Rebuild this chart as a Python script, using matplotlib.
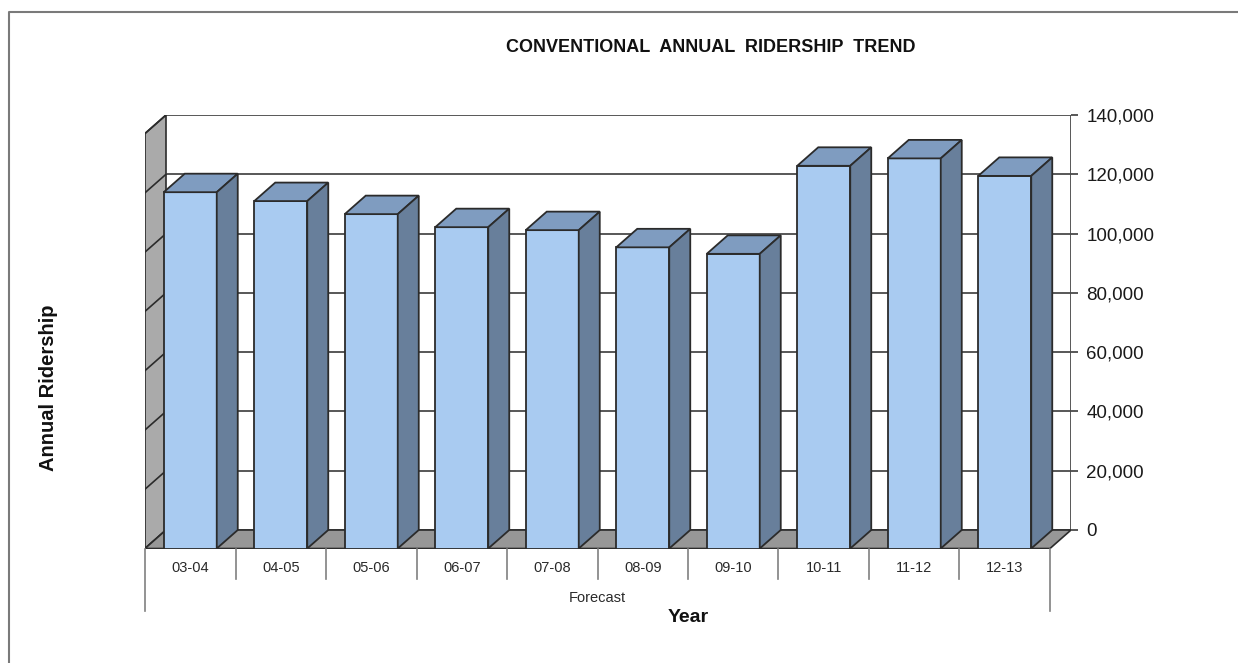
import matplotlib
matplotlib.use("Agg")
import matplotlib.pyplot as plt
from matplotlib.patches import Polygon
from matplotlib.lines import Line2D

plt.rcParams['font.family'] = ['Liberation Sans', 'DejaVu Sans']

# data
years = ['03-04', '04-05', '05-06', '06-07', '07-08',
         '08-09', '09-10', '10-11', '11-12', '12-13']
ridership = [120200, 117200, 112800, 108400, 107400,
             101600, 99400, 129100, 131600, 125700]
y_ticks = [0, 20000, 40000, 60000, 80000, 100000, 120000, 140000]
y_max = 140000

# colours
front_col = '#a9cbf1'
top_col = '#7f9cc0'
side_col = '#687f9b'
wall_col = '#aaaaaa'
floor_col = '#979797'
line_col = '#2b2b2b'

W, H = 1238, 663
fig = plt.figure(figsize=(W / 100, H / 100), dpi=100)

# fake 3d geometry, in pixels
px_left, px_front, px_top = 145, 548.5, 115
cat_px = 90.5
unit_px = 415 / y_max
dx = 21 / cat_px
dy = 18.5 / unit_px
n = len(years)
x_lo, x_hi = -0.5, n - 0.5 + dx
y_hi = y_max + dy

def py(p):
    # pixel distance -> value units
    return p / unit_px

ax = fig.add_axes([px_left / W, (H - px_front) / H,
                   (x_hi - x_lo) * cat_px / W, (px_front - px_top) / H])
ax.set_xlim(x_lo, x_hi)
ax.set_ylim(0, y_hi)
for s in ax.spines.values():
    s.set_visible(False)

# back wall + gridlines
ax.add_patch(Polygon([(x_lo + dx, dy), (x_hi, dy), (x_hi, y_hi), (x_lo + dx, y_hi)],
                     fc='white', ec='none', zorder=0))
# left wall
ax.add_patch(Polygon([(x_lo, 0), (x_lo + dx, dy), (x_lo + dx, y_hi), (x_lo, y_max)],
                     fc=wall_col, ec=line_col, lw=1.2, zorder=1))
for v in y_ticks:
    ax.plot([x_lo + dx, x_hi], [v + dy, v + dy], color='#4a4a4a', lw=1.3, zorder=1)
    ax.plot([x_lo, x_lo + dx], [v, v + dy], color=line_col, lw=1.2, zorder=2)
ax.plot([x_hi, x_hi], [dy, y_hi], color='#4a4a4a', lw=1.3, zorder=1)

# floor
ax.add_patch(Polygon([(x_lo, 0), (n - 0.5, 0), (x_hi, dy), (x_lo + dx, dy)],
                     fc=floor_col, ec=line_col, lw=1.2, zorder=2))

# bars: front face via bar(), top and side faces as polygons
xs = list(range(n))
bw = 53 / cat_px
ax.bar(xs, ridership, width=bw, color=front_col, edgecolor=line_col, lw=1.3, zorder=4)
for x, v in zip(xs, ridership):
    l, r = x - bw / 2, x + bw / 2
    ax.add_patch(Polygon([(l, v), (r, v), (r + dx, v + dy), (l + dx, v + dy)],
                         fc=top_col, ec=line_col, lw=1.3, zorder=4))
    ax.add_patch(Polygon([(r, 0), (r + dx, dy), (r + dx, v + dy), (r, v)],
                         fc=side_col, ec=line_col, lw=1.3, zorder=4))

# value axis on the right (back wall)
ax.yaxis.tick_right()
ax.set_yticks([v + dy for v in y_ticks], labels=[f'{v:,}' for v in y_ticks])
ax.tick_params(axis='y', length=5, width=1.3, pad=6, labelsize=13.5,
               color='#4a4a4a', labelcolor='#1a1a1a')
ax.set_xticks([])

# category labels in boxes
for i, lab in enumerate(years):
    ax.text(i, -py(19), lab, ha='center', va='center', fontsize=10.5, color='#2a2a2a')
for k in range(n + 1):
    xk = k - 0.5
    bottom = -py(62) if k in (0, n) else -py(30)
    ax.plot([xk, xk], [0, bottom], color='#808080', lw=1.2, clip_on=False)
ax.text((n - 1) / 2, -py(49), 'Forecast', ha='center', va='center',
        fontsize=10.5, color='#2a2a2a')

fig.text(688 / W, 1 - 617 / H, 'Year', ha='center', va='center',
         fontsize=14, fontweight='bold', color='#111111')
fig.text(49 / W, 1 - 388 / H, 'Annual Ridership', ha='center', va='center',
         rotation=90, fontsize=14.5, fontweight='bold', color='#111111')
fig.text(711 / W, 1 - 48 / H, 'CONVENTIONAL  ANNUAL  RIDERSHIP  TREND',
         ha='center', va='center', fontsize=13, fontweight='bold', color='#111111')

# outer frame
fig.add_artist(Line2D([9 / W, 9 / W, 1], [0, 1 - 12 / H, 1 - 12 / H],
                      transform=fig.transFigure, color='#7a7a7a', lw=1.5))

fig.savefig('out.png', dpi=100)
